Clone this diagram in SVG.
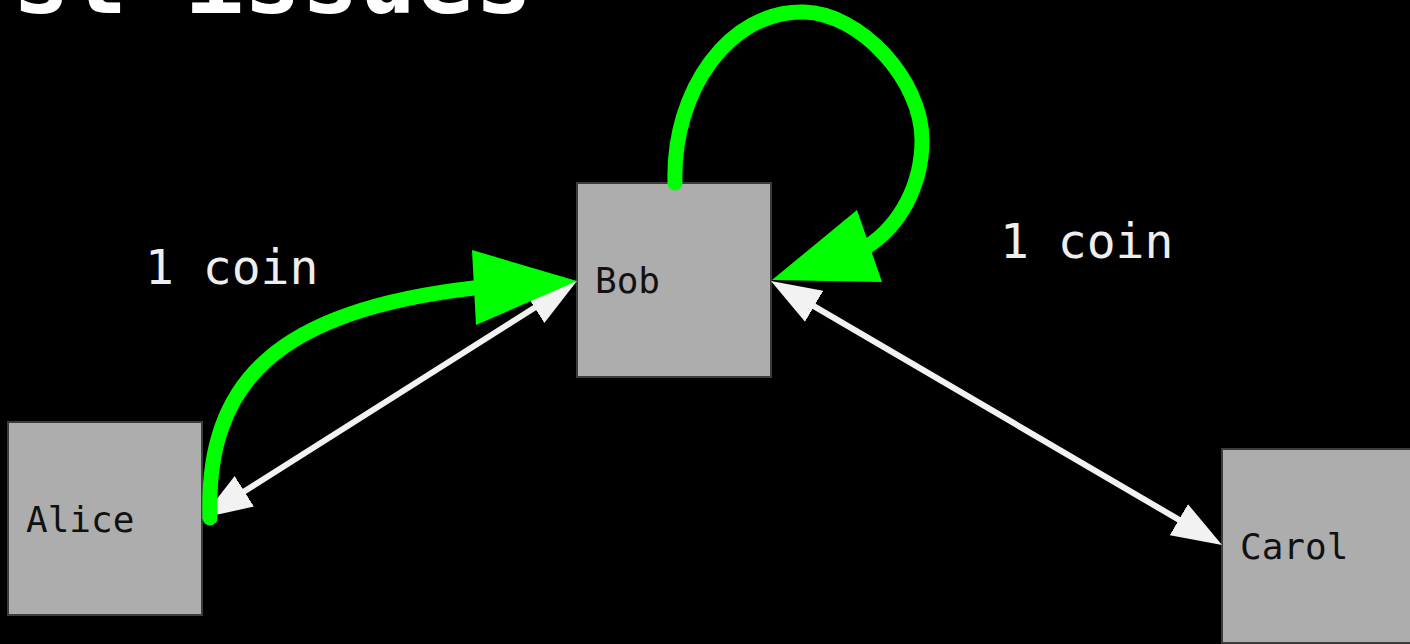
<svg xmlns="http://www.w3.org/2000/svg" width="1410" height="644" viewBox="0 0 1410 644">
  <style>
    .node rect { fill: #adadad; stroke: #3c3c3c; stroke-width: 2; }
    .node text { font-family: "DejaVu Sans Mono", "Liberation Mono", monospace; font-size: 36px; fill: #111111; }
    .white { fill: none; stroke: #f2f2f2; stroke-width: 6; marker-start: url(#wh); marker-end: url(#wh); }
    .green { fill: none; stroke: #00ff00; stroke-width: 15; stroke-linecap: round; }
    .ghead { fill: #00ff00; }
    .elabel { font-family: "DejaVu Sans Mono", "Liberation Mono", monospace; font-size: 48px; fill: #eeeeee; }
    .title { font-family: "DejaVu Sans Mono", "Liberation Mono", monospace; font-size: 96px; font-weight: bold; fill: #ffffff; }
  </style>
  <defs>
    <marker id="wh" markerUnits="userSpaceOnUse" markerWidth="50" markerHeight="36" viewBox="0 0 50 36" refX="40" refY="18" orient="auto-start-reverse">
      <path d="M0,0 L50,18 L0,36 z" fill="#f2f2f2"/>
    </marker>
  </defs>
  <rect x="0" y="0" width="1410" height="644" fill="#000000"/>
  <text class="title" x="12" y="13">st issues</text>

  <g id="nodes">
    <g id="alice" class="node">
      <rect x="8" y="422" width="194" height="193"/>
      <text x="26" y="532">Alice</text>
    </g>
    <g id="bob" class="node">
      <rect x="577" y="183" width="194" height="194"/>
      <text x="595" y="293">Bob</text>
    </g>
    <g id="carol" class="node">
      <rect x="1222" y="449" width="194" height="194"/>
      <text x="1240" y="559">Carol</text>
    </g>
  </g>

  <g id="connectors">
    <line class="white" x1="210.5" y1="512.7" x2="568.5" y2="286.3"/>
    <line class="white" x1="779.6" y1="286.1" x2="1213.4" y2="539.9"/>
    <path class="green" d="M210,518 C205,380 280,310 474,288"/>
    <polygon class="ghead" points="472,250 577,281 476,325"/>
    <path class="green" d="M675,183 C672,90 730,10 804,12 C860,13 922,80 922,140 C922,185 900,225 868,246"/>
    <polygon class="ghead" points="857,210 772,280 882,282"/>
  </g>

  <g id="edge-labels">
    <text class="elabel" x="145" y="284">1 coin</text>
    <text class="elabel" x="1000" y="258">1 coin</text>
  </g>
</svg>
